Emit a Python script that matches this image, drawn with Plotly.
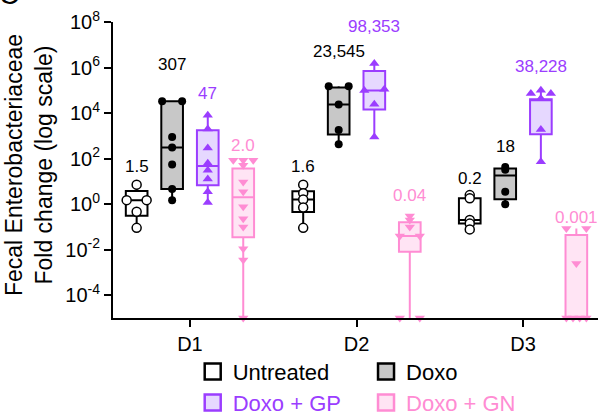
import numpy as np
import plotly.graph_objects as go

days = ["D1", "D2", "D3"]
groups = ["Untreated", "Doxo", "Doxo + GP", "Doxo + GN"]

# individual animals (fold change), per day D1, D2, D3
untreated_pts = [[7.2, 1.5, 1.5, 0.46, 0.091], [7.2, 3.0, 1.6, 0.72, 0.091], [2.5, 1.8, 0.2, 0.14, 0.078]]
doxo_pts = [[33000, 33000, 890, 307, 55, 4.6, 1.5], [150000, 150000, 23545, 1800, 430], [43, 32.5, 3.5, 1.0]]
gp_pts = [[8100, 2000, 295, 62, 31, 12.6, 3.5, 1.17], [1.5e6, 110000, 98353, 24500, 900],
          [100000, 72000, 72000, 44000, 1900, 72]]
gn_pts = [[85, 85, 85, 51, 9.5, 3.5, 0.76, 0.23, 0.1, 0.011, 0.0035, 1e-5],
          [0.30, 0.2, 0.1, 0.04, 0.04, 1e-5, 1e-5],
          [0.085, 0.085, 0.0025, 1e-5, 1e-5, 1e-5, 1e-5]]

# box statistics per day
untreated_q1 = [0.31, 0.45, 0.14]
untreated_med = [1.5, 1.6, 0.2]
untreated_q3 = [3.8, 3.7, 1.8]
doxo_q1 = [4.6, 1150, 1.66]
doxo_med = [307, 23545, 18]
doxo_q3 = [33000, 132000, 37]
gp_q1 = [6.8, 14400, 1175]
gp_med = [47, 98353, 38228]
gp_q3 = [1780, 710000, 40000]
gn_q1 = [0.035, 0.0081, 1e-5]
gn_med = [2.0, 0.04, 1e-5]
gn_q3 = [37, 0.16, 0.044]

# median labels
untreated_lbl = ["1.5", "1.6", "0.2"]
doxo_lbl = ["307", "23,545", "18"]
gp_lbl = ["47", "98,353", "38,228"]
gn_lbl = ["2.0", "0.04", "0.001"]

ytick_exp = [8, 6, 4, 2, 0, -2, -4]
y_title = "Fecal Enterobacteriaceae<br>Fold change (log scale)"

# ---- styling / layout ----
FONT = "Liberation Sans, Arial, sans-serif"
PURPLE = "#9B3DFF"
PINK = "#FF8CD3"
series = [
    dict(name=groups[0], pts=untreated_pts, q1=untreated_q1, med=untreated_med, q3=untreated_q3, lbl=untreated_lbl,
         line="black", fill="white", msym="circle", mfill="white", mline="black", mlw=1.5, msize=9, txt="black"),
    dict(name=groups[1], pts=doxo_pts, q1=doxo_q1, med=doxo_med, q3=doxo_q3, lbl=doxo_lbl,
         line="black", fill="#C8C8C8", msym="circle", mfill="black", mline="black", mlw=0, msize=8, txt="black"),
    dict(name=groups[2], pts=gp_pts, q1=gp_q1, med=gp_med, q3=gp_q3, lbl=gp_lbl,
         line=PURPLE, fill="#E6D8FF", msym="triangle-up", mfill=PURPLE, mline=PURPLE, mlw=0, msize=9, txt=PURPLE),
    dict(name=groups[3], pts=gn_pts, q1=gn_q1, med=gn_med, q3=gn_q3, lbl=gn_lbl,
         line=PINK, fill="#FFE4F4", msym="triangle-down", mfill=PINK, mline=PINK, mlw=0, msize=9, txt=PINK),
]
offsets = [-0.32, -0.107, 0.107, 0.32]
label_y = [[1.64, 1.64, 1.13], [6.15, 6.69, 2.52], [4.86, 7.81, 6.03], [2.59, 0.40, -0.58]]
BOXW = 0.13


def spread(vals, w=0.06, tol=0.12):
    logs = np.log10(np.array(vals, dtype=float))
    offs = np.zeros(len(vals))
    order = np.argsort(logs)
    clusters = []
    for i in order:
        if clusters and logs[i] - logs[clusters[-1][-1]] < tol:
            clusters[-1].append(i)
        else:
            clusters.append([i])
    for c in clusters:
        if len(c) > 1:
            offs[c] = np.linspace(-w, w, len(c))
    return offs


fig = go.Figure()
annotations = []

for si, s in enumerate(series):
    xs = [d + 1 + offsets[si] for d in range(3)]
    fig.add_trace(go.Box(
        x=xs, q1=s["q1"], median=s["med"], q3=s["q3"],
        lowerfence=[min(p) for p in s["pts"]], upperfence=[max(p) for p in s["pts"]],
        width=BOXW, whiskerwidth=0, boxpoints=False,
        line=dict(color=s["line"], width=2), fillcolor=s["fill"],
        showlegend=False, hoverinfo="skip",
    ))
    px, py = [], []
    for d in range(3):
        offs = spread(s["pts"][d])
        px += list(d + 1 + offsets[si] + offs)
        py += list(s["pts"][d])
    fig.add_trace(go.Scatter(
        x=px, y=py, mode="markers", cliponaxis=False, showlegend=False, hoverinfo="skip",
        marker=dict(symbol=s["msym"], size=s["msize"], color=s["mfill"],
                    line=dict(color=s["mline"], width=s["mlw"])),
    ))
    for d in range(3):
        annotations.append(dict(x=xs[d], y=label_y[si][d], xref="x", yref="y", text=s["lbl"][d],
                                showarrow=False, font=dict(family=FONT, size=17, color=s["txt"]),
                                xanchor="center", yanchor="middle"))

# legend dummy traces, one legend each
legend_pos = [(0.318, 0.1065), (0.604, 0.1065), (0.318, 0.032), (0.604, 0.032)]
legend_layouts = {}
for si, s in enumerate(series):
    lname = "legend" if si == 0 else f"legend{si + 1}"
    fig.add_trace(go.Scatter(
        x=[2.0], y=[1e12], mode="markers", name=s["name"], legend=lname, showlegend=True,
        hoverinfo="skip",
        marker=dict(symbol="square", size=17, color=s["fill"], line=dict(color=s["line"], width=2.5)),
    ))
    legend_layouts[lname] = dict(
        x=legend_pos[si][0], y=legend_pos[si][1], xref="container", yref="container",
        xanchor="left", yanchor="middle", bgcolor="rgba(0,0,0,0)",
        font=dict(family=FONT, size=22, color=s["txt"]), itemsizing="trace",
    )

# y-axis title (two rotated lines)
annotations.append(dict(x=-0.173, y=0.517, xref="paper", yref="paper", text=y_title, showarrow=False,
                        textangle=-90, xanchor="center", yanchor="middle",
                        font=dict(family=FONT, size=23, color="black")))
# panel letter (cropped at the top edge, as in the reference)
annotations.append(dict(x=-0.2395, y=1.033, xref="paper", yref="paper", text="C", showarrow=False,
                        xanchor="left", yanchor="bottom", font=dict(family=FONT, size=28, color="black")))

fig.update_layout(
    width=606, height=416,
    margin=dict(l=113, r=8, t=22, b=98, autoexpand=False),
    paper_bgcolor="white", plot_bgcolor="white",
    boxmode="overlay",
    font=dict(family=FONT, color="black"),
    annotations=annotations,
    shapes=[dict(type="line", xref="paper", x0=0, x1=1, yref="y", y0=0, y1=0,
                 line=dict(color="black", width=1, dash="dot"), layer="below")],
    **legend_layouts,
)
fig.update_xaxes(
    type="linear", range=[0.538, 3.45], tickvals=[1, 2, 3], ticktext=days, showgrid=False, zeroline=False,
    showline=True, linecolor="black", linewidth=2, ticks="outside", ticklen=7, tickwidth=2,
    tickcolor="black", tickfont=dict(family=FONT, size=20, color="black"), automargin=False,
)
fig.update_yaxes(
    type="log", range=[-5.0, 8.0],
    tickvals=[10.0 ** e for e in ytick_exp], ticktext=[f"10<sup>{e}</sup>" for e in ytick_exp],
    showgrid=False, zeroline=False, showline=True, linecolor="black", linewidth=2,
    ticks="outside", ticklen=7, tickwidth=2, tickcolor="black",
    tickfont=dict(family=FONT, size=20, color="black"), automargin=False,
)

fig.write_html("out.html", config={"displayModeBar": False},
               post_script="document.body.style.margin='0';")
